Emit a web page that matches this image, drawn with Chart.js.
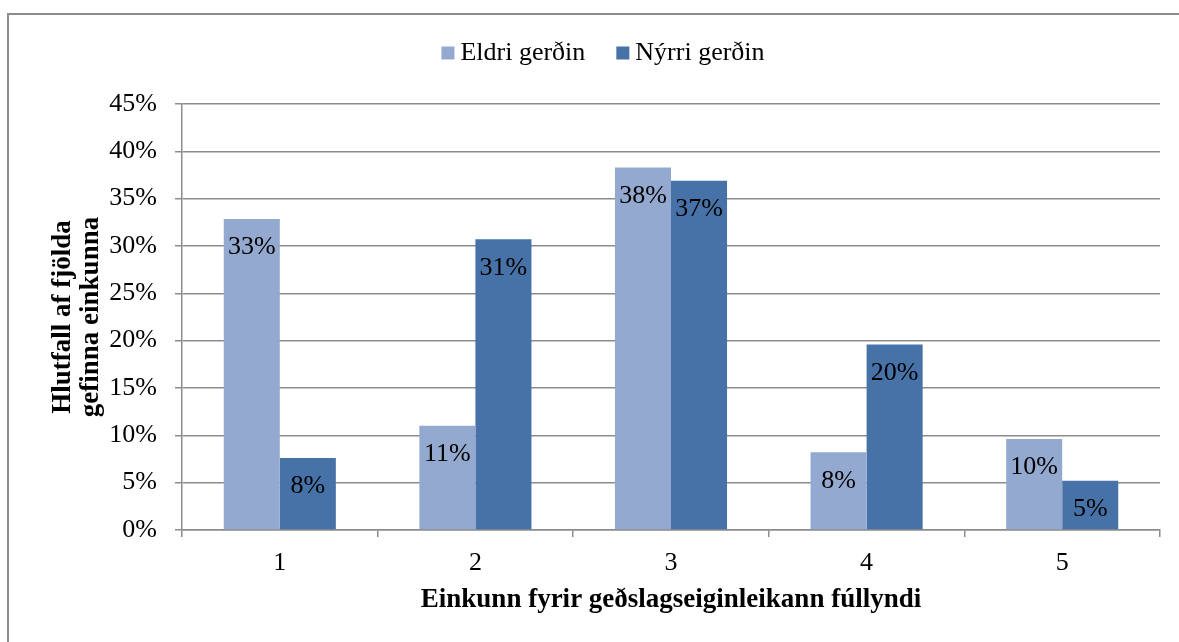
<!DOCTYPE html>
<html>
<head>
<meta charset="utf-8">
<script src="https://cdn.jsdelivr.net/npm/chart.js@4.4.1/dist/chart.umd.min.js"></script>
<style>
html,body{margin:0;padding:0;background:#fff;}
#wrap{width:1179px;height:642px;position:relative;}
</style>
</head>
<body>
<div id="wrap"><canvas id="c" width="1179" height="642"></canvas></div>
<script>
const categories = ['1', '2', '3', '4', '5'];
const seriesNames = ['Eldri gerðin', 'Nýrri gerðin'];
const eldri = [32.85, 11.0, 38.3, 8.2, 9.6];
const nyrri = [7.6, 30.7, 36.9, 19.6, 5.2];
const yTicks = [0, 5, 10, 15, 20, 25, 30, 35, 40, 45];
const xTitle = 'Einkunn fyrir geðslagseiginleikann fúllyndi';
const yTitle = ['Hlutfall af fjölda', 'gefinna einkunna'];
const colors = ['#94a9cf', '#4672a8'];

const FONT = "'Liberation Serif', 'Times New Roman', serif";

const framePlugin = {
  id: 'frame',
  beforeDraw(chart) {
    const ctx = chart.ctx;
    ctx.save();
    ctx.fillStyle = '#fff';
    ctx.fillRect(0, 0, chart.width, chart.height);
    ctx.strokeStyle = '#8c8c8c';
    ctx.lineWidth = 2;
    ctx.strokeRect(8, 14, chart.width + 20, chart.height + 20);
    ctx.restore();
  }
};

const legendPlugin = {
  id: 'customLegend',
  afterDraw(chart) {
    const ctx = chart.ctx;
    ctx.save();
    ctx.font = '26px ' + FONT;
    const box = 13, gap = 6, spacing = 31;
    const ds = chart.data.datasets;
    let total = 0;
    const widths = ds.map(d => ctx.measureText(d.label).width);
    widths.forEach((w, i) => { total += box + gap + w + (i > 0 ? spacing : 0); });
    let x = 603 - total / 2;
    const cy = 53;
    ds.forEach((d, i) => {
      ctx.fillStyle = d.backgroundColor;
      ctx.fillRect(x, cy - 6.5, box, box);
      ctx.fillStyle = '#000';
      ctx.textBaseline = 'middle';
      ctx.textAlign = 'left';
      ctx.fillText(d.label, x + box + gap, cy);
      x += box + gap + widths[i] + spacing;
    });
    ctx.restore();
  }
};

const labelPlugin = {
  id: 'barLabels',
  afterDatasetsDraw(chart) {
    const ctx = chart.ctx;
    ctx.save();
    ctx.font = '26px ' + FONT;
    ctx.fillStyle = '#000';
    ctx.textAlign = 'center';
    ctx.textBaseline = 'middle';
    chart.data.datasets.forEach((d, di) => {
      const meta = chart.getDatasetMeta(di);
      meta.data.forEach((bar, i) => {
        ctx.fillText(Math.round(d.data[i]) + '%', bar.x, bar.y + 28.5);
      });
    });
    ctx.restore();
  }
};

new Chart(document.getElementById('c'), {
  type: 'bar',
  data: {
    labels: categories,
    datasets: [
      { label: seriesNames[0], data: eldri, backgroundColor: colors[0], borderWidth: 0 },
      { label: seriesNames[1], data: nyrri, backgroundColor: colors[1], borderWidth: 0 }
    ]
  },
  options: {
    responsive: false,
    animation: false,
    devicePixelRatio: 1,
    layout: { padding: { left: 0, right: 19, top: 104, bottom: 0 } },
    datasets: { bar: { categoryPercentage: 0.573, barPercentage: 1.0 } },
    plugins: {
      legend: { display: false },
      tooltip: { enabled: false },
      title: { display: false }
    },
    scales: {
      x: {
        afterFit(s) { s.height = 112; },
        grid: { offset: true, drawOnChartArea: false, tickLength: 7, color: '#8c8c8c', lineWidth: 1.5 },
        border: { color: '#8c8c8c', width: 1.5 },
        ticks: { color: '#000', padding: 11, font: { family: FONT, size: 26 } },
        title: { display: true, text: xTitle, color: '#000', padding: { top: 4, bottom: 26 }, font: { family: FONT, size: 27, weight: 'bold', lineHeight: 1.2 } }
      },
      y: {
        min: 0, max: 45,
        afterFit(s) { s.width = 182; },
        afterBuildTicks(s) { s.ticks = yTicks.map(v => ({ value: v })); },
        grid: { color: '#8c8c8c', lineWidth: 1.5, tickLength: 7 },
        border: { color: '#8c8c8c', width: 1.5 },
        ticks: { color: '#000', padding: 18, font: { family: FONT, size: 26 }, callback: v => v + '%' },
        title: { display: true, text: yTitle, color: '#000', padding: { top: 49, bottom: 0 }, font: { family: FONT, size: 27, weight: 'bold', lineHeight: 1.04 } }
      }
    }
  },
  plugins: [framePlugin, legendPlugin, labelPlugin]
});
</script>
</body>
</html>
